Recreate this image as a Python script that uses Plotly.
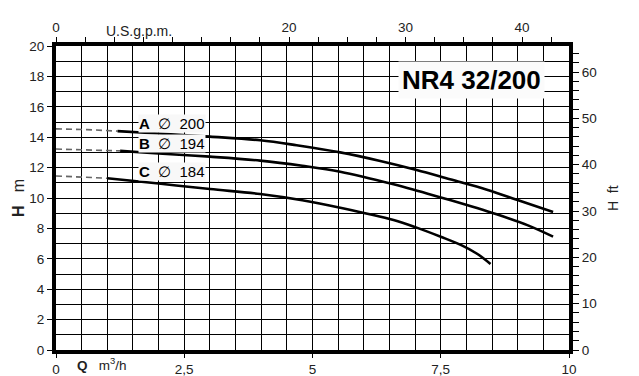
import plotly.graph_objects as go

# Data (Q in m3/h, H in m)
qa_dash = [0.0, 0.6, 1.2]
ha_dash = [14.55, 14.5, 14.4]
qa = [1.2, 2.0, 3.0, 3.98, 4.69, 5.54, 6.3, 7.03, 7.68, 8.4, 9.04, 9.69]
ha = [14.4, 14.24, 14.04, 13.8, 13.47, 13.0, 12.45, 11.84, 11.23, 10.55, 9.82, 9.08]

qb_dash = [0.0, 0.6, 1.25]
hb_dash = [13.22, 13.17, 13.1]
qb = [1.25, 2.0, 3.0, 3.98, 4.8, 5.54, 6.58, 7.1, 7.68, 8.59, 9.2, 9.69]
hb = [13.1, 12.93, 12.72, 12.46, 12.12, 11.73, 10.9, 10.42, 9.87, 8.93, 8.2, 7.46]

qc_dash = [0.0, 0.5, 1.0]
hc_dash = [11.45, 11.38, 11.3]
qc = [1.0, 2.0, 3.0, 3.98, 4.8, 5.54, 6.58, 7.03, 7.5, 7.9, 8.2, 8.47]
hc = [11.3, 10.95, 10.59, 10.26, 9.85, 9.36, 8.55, 8.05, 7.45, 6.9, 6.35, 5.66]

curve_labels = ["<b>A</b>  \u2205  200", "<b>B</b>  \u2205  194", "<b>C</b>  \u2205  184"]
label_h = [14.92, 13.58, 11.76]
label_q = 2.26

x_ticks = [0, 2.5, 5, 7.5, 10]
x_ticktext = ["0", "2,5", "5", "7,5", "10"]
gpm_per_m3h = 4.40287
ft_per_m = 3.28084
gpm_labels = {0: "0", 20: "20", 30: "30", 40: "40"}
ft_labels = {0: "0", 10: "10", 20: "20", 30: "30", 40: "40", 50: "50", 60: "60"}

FONT = "Liberation Sans, Arial, sans-serif"

fig = go.Figure()
for qd, hd, q, h in [(qa_dash, ha_dash, qa, ha), (qb_dash, hb_dash, qb, hb), (qc_dash, hc_dash, qc, hc)]:
    fig.add_trace(go.Scatter(x=qd, y=hd, mode="lines", line=dict(color="#666666", width=1.6, dash="6px,4px"),
                             showlegend=False, hoverinfo="skip"))
    fig.add_trace(go.Scatter(x=q, y=h, mode="lines", line=dict(color="black", width=2.6, shape="spline", smoothing=1.0),
                             showlegend=False, hoverinfo="skip"))

# invisible trace for secondary axes
fig.add_trace(go.Scatter(x=[0], y=[0], xaxis="x2", yaxis="y2", mode="markers",
                         marker=dict(opacity=0), showlegend=False, hoverinfo="skip"))

gpm_vals = [i * 2.5 for i in range(18)]
gpm_text = [gpm_labels.get(int(v), "") if float(v).is_integer() else "" for v in gpm_vals]
ft_vals = list(range(0, 66, 2))
ft_text = [ft_labels.get(v, "") for v in ft_vals]

tickfont = dict(family=FONT, size=13.5, color="#222")

# page body has an 8px default margin, so the figure is 8px smaller and margins compensate
fig.update_layout(
    template="none",
    width=631, height=368,
    margin=dict(l=48, r=70, t=38, b=26, pad=0),
    paper_bgcolor="white", plot_bgcolor="white",
    font=dict(family=FONT, size=13, color="#222"),
    xaxis=dict(range=[0, 10], tickvals=x_ticks, ticktext=x_ticktext, ticks="outside", ticklen=4,
               tickcolor="black", showgrid=True, gridcolor="black", gridwidth=1.3,
               minor=dict(dtick=0.5, showgrid=True, gridcolor="black", gridwidth=1.3, ticks=""),
               showline=True, linecolor="black", linewidth=4, zeroline=False, tickfont=tickfont,
               automargin=False),
    yaxis=dict(range=[0, 20], tickvals=list(range(0, 21, 2)), ticks="outside", ticklen=5,
               tickcolor="black", showgrid=True, gridcolor="black", gridwidth=1.3,
               minor=dict(dtick=1, showgrid=True, gridcolor="black", gridwidth=1.3, ticks=""),
               showline=True, linecolor="black", linewidth=4, zeroline=False, tickfont=tickfont,
               automargin=False),
    xaxis2=dict(range=[0, 10 * gpm_per_m3h], overlaying="x", side="top", tickvals=gpm_vals,
                ticktext=gpm_text, ticks="outside", ticklen=5, tickcolor="black", showgrid=False,
                showline=True, linecolor="black", linewidth=4, zeroline=False, tickfont=tickfont,
                automargin=False),
    yaxis2=dict(range=[0, 20 * ft_per_m], overlaying="y", side="right", tickvals=ft_vals,
                ticktext=ft_text, ticks="outside", ticklen=6, tickcolor="black", showgrid=False,
                showline=True, linecolor="black", linewidth=4, zeroline=False, tickfont=tickfont,
                automargin=False),
)

annotations = [
    dict(text="U.S.g.p.m.", x=1.62, xref="x", y=1, yref="paper", yanchor="bottom", yshift=5,
         xanchor="center", showarrow=False, font=dict(family=FONT, size=14, color="#222")),
    dict(text="<b>Q</b>   m<sup>3</sup>/h", x=0.9, xref="x", y=0, yref="paper", yanchor="top", yshift=-3,
         xanchor="center", showarrow=False, font=dict(family=FONT, size=13.5, color="#222")),
    dict(text="<b>H</b>   m", x=-0.074, xref="paper", y=0.5, yref="paper", textangle=-90,
         xanchor="center", yanchor="middle", showarrow=False, font=dict(family=FONT, size=16, color="#222")),
    dict(text="H  ft", x=1.086, xref="paper", y=0.5, yref="paper", textangle=-90,
         xanchor="center", yanchor="middle", showarrow=False, font=dict(family=FONT, size=14, color="#222")),
    dict(text="<b>NR4 32/200</b>", x=8.09, xref="x", y=17.76, yref="y", showarrow=False,
         bgcolor="#fbfbfb", borderpad=3, font=dict(family=FONT, size=26, color="black")),
]
for t, h in zip(curve_labels, label_h):
    annotations.append(dict(text=t, x=label_q, xref="x", y=h, yref="y", showarrow=False,
                            bgcolor="#f8f8f8", borderpad=0, font=dict(family=FONT, size=15, color="black")))
fig.update_layout(annotations=annotations)

fig.write_html("out.html")
